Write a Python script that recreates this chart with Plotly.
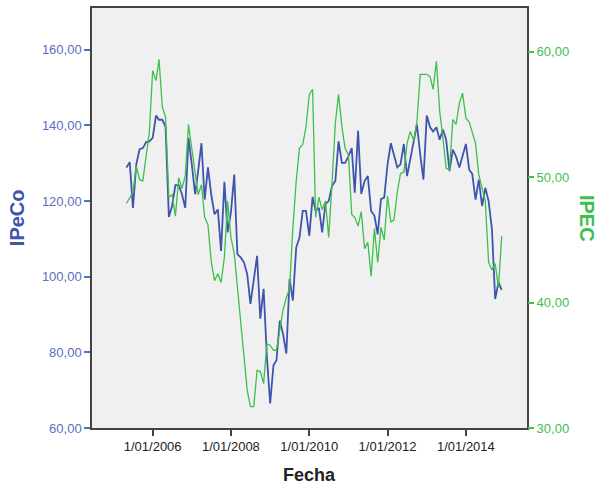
import pandas as pd
import plotly.graph_objects as go

# Monthly series, May 2005 - Dec 2014
start_month = "2005-05-01"
ipeco = [128.9, 130.3, 118.2, 129.7, 133.7, 134.0, 135.6, 135.8, 136.7, 142.6,
         141.5, 141.5, 139.7, 115.8, 118.7, 124.2, 124.2, 121.8, 118.2, 136.7,
         129.7, 121.8, 127.9, 135.3, 120.4, 128.9, 121.8, 116.5, 117.8, 106.8,
         125.1, 111.7, 117.0, 127.0, 106.0, 105.1, 103.8, 100.7, 92.8, 98.9,
         105.5, 88.9, 96.8, 79.0, 66.5, 76.6, 77.9, 88.4, 84.9, 79.7,
         99.4, 93.7, 107.7, 110.3, 117.4, 117.4, 110.8, 121.1, 117.4, 118.2,
         111.7, 119.3, 120.0, 124.0, 125.3, 135.8, 130.1, 130.1, 131.8, 134.0,
         122.2, 138.6, 121.9, 125.3, 126.6, 117.4, 116.1, 111.2, 120.5, 120.9,
         129.7, 135.3, 132.3, 128.9, 129.7, 135.1, 126.6, 131.4, 135.3, 140.2,
         132.3, 125.7, 142.6, 139.5, 138.4, 139.5, 136.2, 138.9, 136.2, 127.9,
         133.6, 131.8, 128.9, 131.8, 135.1, 128.3, 127.2, 120.4, 125.7, 118.7,
         123.5, 120.0, 112.5, 94.1, 98.5, 96.5]
ipec = [47.9, 48.4, 48.8, 50.9, 49.8, 49.7, 51.5, 53.6, 58.5, 57.7,
        59.4, 55.6, 54.8, 48.4, 48.6, 46.9, 49.95, 49.1, 50.1, 54.2,
        52.3, 50.3, 48.6, 49.4, 46.8, 46.2, 43.3, 41.75, 42.3, 41.6,
        43.6, 48.1, 45.2, 43.9, 41.2, 38.6, 35.7, 33.0, 31.7, 31.7,
        34.6, 34.5, 33.55, 36.7, 36.6, 36.2, 36.2, 38.0, 39.4, 40.4,
        41.1, 46.0, 49.7, 52.3, 52.6, 54.0, 56.6, 57.0, 46.8, 48.4,
        47.4, 48.1, 45.2, 49.5, 54.3, 56.6, 54.05, 52.3, 51.8, 47.0,
        46.8, 46.1, 47.25, 44.3, 44.8, 42.1, 45.9, 43.2, 46.0, 45.0,
        48.5, 46.4, 46.6, 48.8, 50.3, 50.4, 52.7, 53.65, 52.9, 54.4,
        58.2, 58.2, 58.2, 58.0, 57.0, 59.25, 55.3, 53.1, 50.7, 50.6,
        54.6, 54.2, 55.9, 56.7, 54.7, 54.4, 53.5, 52.7, 50.2, 49.15,
        48.1, 43.2, 42.6, 43.1, 41.2, 45.3]
x_tickvals = ["2006-01-01", "2008-01-01", "2010-01-01", "2012-01-01", "2014-01-01"]
x_ticktext = ["1/01/2006", "1/01/2008", "1/01/2010", "1/01/2012", "1/01/2014"]
left_ticks = [60, 80, 100, 120, 140, 160]
right_ticks = [30, 40, 50, 60]

dates = pd.date_range(start_month, periods=len(ipeco), freq="MS")

BLUE = "#3f55ad"
BLUE_TXT = "#5a6fc0"
GREEN = "#3dbf4c"
FRAME = "#444444"
FONT = "Liberation Sans, Arial, sans-serif"

fig = go.Figure()
fig.add_trace(go.Scatter(x=dates, y=ipeco, mode="lines", name="IPeCo",
                         line=dict(color=BLUE, width=1.8), yaxis="y"))
fig.add_trace(go.Scatter(x=dates, y=ipec, mode="lines", name="IPEC",
                         line=dict(color=GREEN, width=1.3), yaxis="y2"))

fig.update_layout(
    width=605, height=491,
    margin=dict(l=92, r=78, t=6, b=63),
    paper_bgcolor="white", plot_bgcolor="#f0f0f0",
    showlegend=False,
    font=dict(family=FONT),
    xaxis=dict(
        range=["2004-06-14", "2015-07-25"],
        tickvals=x_tickvals, ticktext=x_ticktext,
        ticks="outside", ticklen=6, tickwidth=1.5, tickcolor=FRAME,
        tickfont=dict(size=13, color="#222222"),
        showline=True, linecolor=FRAME, linewidth=1.5, mirror=True,
        showgrid=False, zeroline=False,
    ),
    yaxis=dict(
        range=[60, 171.05],
        tickvals=left_ticks, ticktext=[f"{v},00" for v in left_ticks],
        ticks="outside", ticklen=6, tickwidth=2, tickcolor=BLUE_TXT,
        tickfont=dict(size=13, color=BLUE_TXT),
        showline=True, linecolor=FRAME, linewidth=1.5, mirror=True,
        showgrid=False, zeroline=False,
    ),
    yaxis2=dict(
        range=[30, 63.49], overlaying="y", side="right",
        tickvals=right_ticks, ticktext=[f"{v},00" for v in right_ticks],
        ticks="outside", ticklen=6, tickwidth=1.5, tickcolor=GREEN,
        tickfont=dict(size=13, color=GREEN),
        showline=False, showgrid=False, zeroline=False,
    ),
    annotations=[
        dict(text="<b>Fecha</b>", xref="paper", yref="paper", x=0.5, y=-0.113,
             xanchor="center", yanchor="middle", showarrow=False,
             font=dict(size=18, color="#222222")),
        dict(text="<b>IPeCo</b>", xref="paper", yref="paper", x=-0.172, y=0.5,
             xanchor="center", yanchor="middle", textangle=-90, showarrow=False,
             font=dict(size=20, color=BLUE)),
        dict(text="<b>IPEC</b>", xref="paper", yref="paper", x=1.138, y=0.5,
             xanchor="center", yanchor="middle", textangle=90, showarrow=False,
             font=dict(size=20, color=GREEN)),
    ],
)

fig.write_html("out.html",
               config={"displayModeBar": False},
               post_script="document.body.style.margin='0px';document.body.style.padding='0px';")
